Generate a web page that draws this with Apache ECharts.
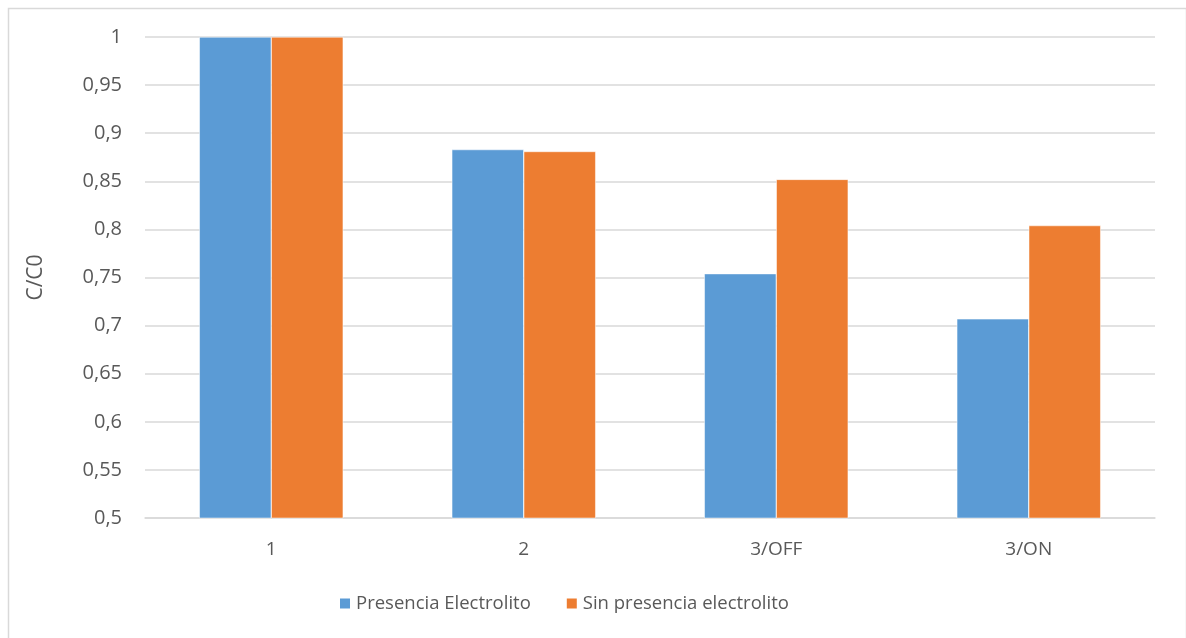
<!DOCTYPE html>
<html>
<head>
<meta charset="utf-8">
<style>html,body{margin:0;padding:0;background:#fff}#c{width:1186px;height:638px}</style>
<script src="https://cdn.jsdelivr.net/npm/echarts@6/dist/echarts.min.js"></script>
</head>
<body>
<div id="c"></div>
<script>
const categories = ['1', '2', '3/OFF', '3/ON'];
const presencia = [1.0, 0.883, 0.754, 0.707];
const sinPresencia = [1.0, 0.881, 0.852, 0.804];
const seriesNames = ['Presencia Electrolito', 'Sin presencia electrolito'];

const chart = echarts.init(document.getElementById('c'));
const font = 'Open Sans, Liberation Sans, sans-serif';
chart.setOption({
  animation: false,
  textStyle: { fontFamily: font },
  graphic: [{
    type: 'rect', left: 6, top: 6, silent: true,
    shape: { width: 1178, height: 640 },
    style: { fill: 'none', stroke: '#d9d9d9', lineWidth: 1.5 }
  }],
  grid: { left: 145, right: 31, top: 37, bottom: 120 },
  legend: {
    bottom: 20, left: 333, itemWidth: 12, itemHeight: 12, itemGap: 34,
    icon: 'rect',
    textStyle: { color: '#595959', fontSize: 18.5, fontFamily: font },
    data: seriesNames
  },
  xAxis: {
    type: 'category', data: categories,
    axisLine: { lineStyle: { color: '#d9d9d9', width: 1.5 } },
    axisTick: { show: false },
    axisLabel: { color: '#595959', fontSize: 19, margin: 22 }
  },
  yAxis: {
    type: 'value', min: 0.5, max: 1, interval: 0.05,
    name: 'C/C0', nameLocation: 'middle', nameGap: 98, nameRotate: 90,
    nameTextStyle: { color: '#595959', fontSize: 21 },
    axisLine: { show: false }, axisTick: { show: false },
    splitLine: { lineStyle: { color: '#d9d9d9', width: 1.5 } },
    axisLabel: {
      color: '#595959', fontSize: 20, margin: 23,
      formatter: v => String(Math.round(v * 100) / 100).replace('.', ',')
    }
  },
  series: [
    { name: seriesNames[0], type: 'bar', data: presencia, barGap: '0%', barCategoryGap: '43%',
      itemStyle: { color: '#5b9bd5', borderColor: '#ffffff', borderWidth: 0.5 } },
    { name: seriesNames[1], type: 'bar', data: sinPresencia, barGap: '0%', barCategoryGap: '43%',
      itemStyle: { color: '#ed7d31', borderColor: '#ffffff', borderWidth: 0.5 } }
  ]
});
</script>
</body>
</html>
